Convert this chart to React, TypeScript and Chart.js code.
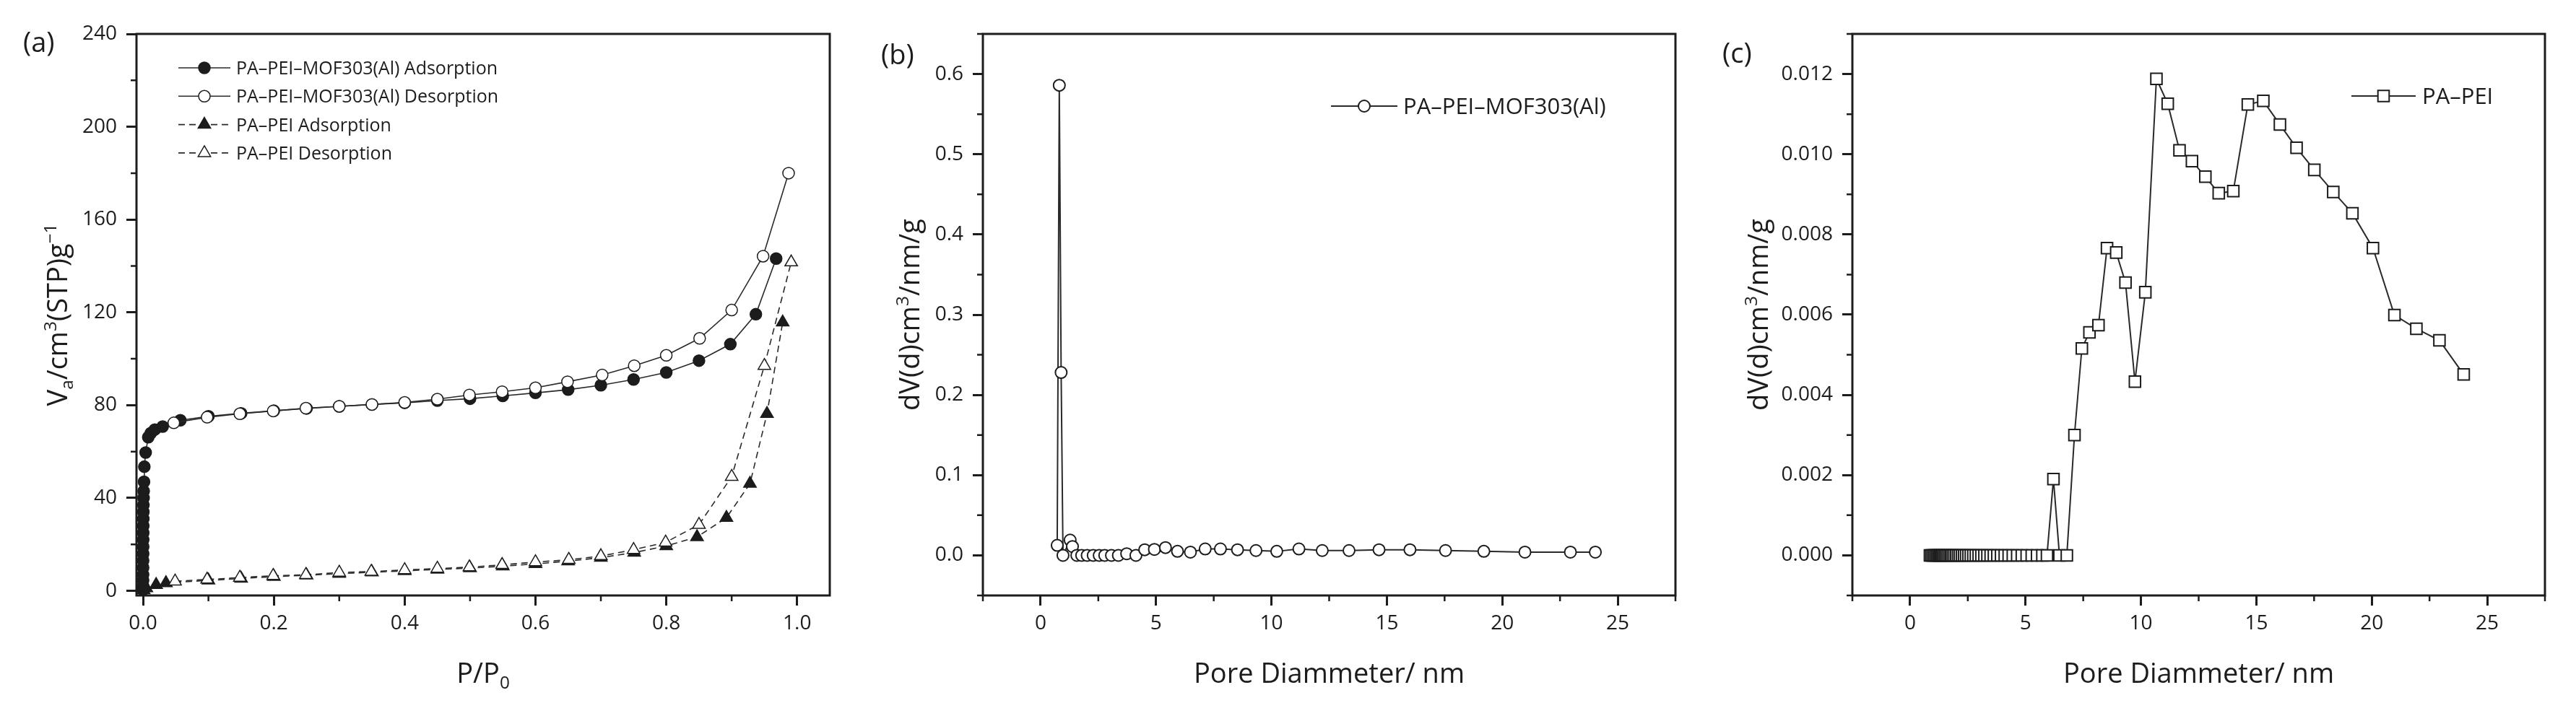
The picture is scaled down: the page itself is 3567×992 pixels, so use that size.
import React, { useEffect, useRef } from 'react';
import { Chart, registerables } from 'chart.js';

Chart.register(...registerables);

const FONT = "'Open Sans', 'DejaVu Sans', sans-serif";
const INK = '#1c1c1c';
const LINE = '#2a2a2a';

// ---------- Panel (a): isotherms ----------
const mofAdsP = [0.00002, 0.00004, 0.00006, 0.00008, 0.0001, 0.00013, 0.00016, 0.0002, 0.00025, 0.0003, 0.00035, 0.0004, 0.0005, 0.0006, 0.0008, 0.001, 0.0015, 0.002, 0.004, 0.008, 0.012, 0.018, 0.03, 0.057, 0.10, 0.15, 0.20, 0.25, 0.30, 0.35, 0.40, 0.45, 0.50, 0.55, 0.60, 0.65, 0.70, 0.75, 0.80, 0.85, 0.898, 0.937, 0.968];
const mofAdsV = [0.5, 2, 4.5, 7, 10, 13, 16, 19, 22, 25, 28, 31, 34, 37, 40, 43, 47, 53.5, 59.6, 66.2, 68, 69.5, 70.8, 73.5, 75.2, 76.5, 77.6, 78.6, 79.5, 80.3, 81.0, 82.0, 82.8, 84.0, 85.3, 86.7, 88.6, 91.1, 94.1, 99.2, 106.3, 119.2, 143.2];
const mofDesP = [0.047, 0.098, 0.148, 0.199, 0.249, 0.30, 0.35, 0.40, 0.45, 0.499, 0.549, 0.60, 0.649, 0.702, 0.751, 0.80, 0.851, 0.90, 0.948, 0.987];
const mofDesV = [72.4, 74.8, 76.3, 77.5, 78.7, 79.5, 80.3, 81.2, 82.6, 84.4, 85.8, 87.5, 90.1, 93.0, 97.0, 101.5, 108.8, 121.0, 144.2, 180.0];
const peiAdsP = [0.001, 0.005, 0.02, 0.035, 0.10, 0.15, 0.20, 0.25, 0.30, 0.35, 0.40, 0.45, 0.50, 0.55, 0.60, 0.65, 0.70, 0.751, 0.80, 0.847, 0.892, 0.928, 0.954, 0.978];
const peiAdsV = [0.3, 1.2, 2.6, 3.4, 4.5, 5.3, 6.1, 6.7, 7.4, 8.0, 8.6, 9.2, 9.8, 10.6, 11.6, 12.8, 14.3, 16.5, 19.3, 23.2, 31.5, 46.2, 76.3, 115.7];
const peiDesP = [0.049, 0.098, 0.148, 0.199, 0.249, 0.30, 0.349, 0.40, 0.45, 0.499, 0.549, 0.60, 0.651, 0.70, 0.75, 0.799, 0.85, 0.90, 0.95, 0.991];
const peiDesV = [4.1, 4.9, 5.7, 6.5, 6.9, 7.9, 8.3, 9.0, 9.6, 10.2, 11.2, 12.4, 13.4, 15.0, 17.7, 20.9, 28.5, 49.2, 97.0, 141.6];
const aXTicks = [0, 0.2, 0.4, 0.6, 0.8, 1.0];
const aXMinor = [0.1, 0.3, 0.5, 0.7, 0.9];
const aYTicks = [0, 40, 80, 120, 160, 200, 240];
const aYMinor = [20, 60, 100, 140, 180, 220];
const aLegend = ['PA–PEI–MOF303(Al) Adsorption', 'PA–PEI–MOF303(Al) Desorption', 'PA–PEI Adsorption', 'PA–PEI Desorption'];

// ---------- Panel (b): PA-PEI-MOF303(Al) pore size ----------
const bDiam = [0.72, 0.81, 0.89, 0.97, 1.28, 1.38, 1.57, 1.78, 2.02, 2.28, 2.54, 2.78, 3.07, 3.37, 3.73, 4.13, 4.51, 4.93, 5.41, 5.93, 6.49, 7.13, 7.79, 8.53, 9.33, 10.23, 11.19, 12.2, 13.36, 14.66, 16.0, 17.54, 19.2, 20.98, 22.95, 24.03];
const bDv = [0.0125, 0.586, 0.228, 0.0, 0.019, 0.011, 0, 0, 0, 0, 0, 0, 0, 0, 0.002, 0, 0.007, 0.0074, 0.0097, 0.005, 0.004, 0.008, 0.008, 0.007, 0.006, 0.005, 0.008, 0.006, 0.006, 0.007, 0.007, 0.006, 0.005, 0.004, 0.004, 0.004];
const bXTicks = [0, 5, 10, 15, 20, 25];
const bXMinor = [-2.5, 2.5, 7.5, 12.5, 17.5, 22.5, 27.5];
const bYTicks = [0, 0.1, 0.2, 0.3, 0.4, 0.5, 0.6];
const bYMinor = [-0.05, 0.05, 0.15, 0.25, 0.35, 0.45, 0.55, 0.65];
const bLegend = ['PA–PEI–MOF303(Al)'];

// ---------- Panel (c): PA-PEI pore size ----------
const cDiam = [0.86, 0.92, 0.98, 1.04, 1.10, 1.16, 1.22, 1.28, 1.34, 1.40, 1.46, 1.52, 1.58, 1.64, 1.71, 1.78, 1.85, 1.92, 2.00, 2.08, 2.16, 2.25, 2.34, 2.43, 2.53, 2.63, 2.74, 2.85, 2.97, 3.09, 3.22, 3.35, 3.49, 3.63, 3.78, 3.94, 4.10, 4.27, 4.45, 4.64, 4.84, 5.05, 5.27, 5.50, 5.73, 5.93, 6.21, 6.47, 6.79, 7.12, 7.44, 7.77, 8.16, 8.53, 8.93, 9.33, 9.74, 10.19, 10.67, 11.16, 11.67, 12.21, 12.79, 13.37, 14.00, 14.63, 15.30, 16.02, 16.74, 17.51, 18.33, 19.16, 20.05, 20.98, 21.93, 22.93, 23.98];
const cDv = [0, 0, 0, 0, 0, 0, 0, 0, 0, 0, 0, 0, 0, 0, 0, 0, 0, 0, 0, 0, 0, 0, 0, 0, 0, 0, 0, 0, 0, 0, 0, 0, 0, 0, 0, 0, 0, 0, 0, 0, 0, 0, 0, 0, 0, 0, 0.0019, 0, 0, 0.0030, 0.00516, 0.00556, 0.00574, 0.00766, 0.00755, 0.0068, 0.00433, 0.00656, 0.01188, 0.01126, 0.0101, 0.00983, 0.00944, 0.00903, 0.00908, 0.01124, 0.01133, 0.01074, 0.01016, 0.00961, 0.00906, 0.00853, 0.00766, 0.00599, 0.00565, 0.00536, 0.00451];
const cXTicks = [0, 5, 10, 15, 20, 25];
const cXMinor = [-2.5, 2.5, 7.5, 12.5, 17.5, 22.5, 27.5];
const cYTicks = [0, 0.002, 0.004, 0.006, 0.008, 0.010, 0.012];
const cYMinor = [-0.001, 0.001, 0.003, 0.005, 0.007, 0.009, 0.011, 0.013];
const cLegend = ['PA–PEI'];

type Seg = { t: string; s?: 'sup' | 'sub' };
type Marker = { style: 'circle' | 'triangle' | 'rect'; r: number; fill: string; bw: number; dash: number[]; lw: number };

const zip = (xs: number[], ys: number[]) => xs.map((x, i) => ({ x, y: ys[i] }));

function drawRich(ctx: CanvasRenderingContext2D, segs: Seg[], cx: number, by: number, size: number) {
  const parts = segs.map((sg) => {
    const fs = sg.s ? size * 0.64 : size;
    ctx.font = `${fs}px ${FONT}`;
    return { ...sg, fs, w: ctx.measureText(sg.t).width };
  });
  const total = parts.reduce((a, p) => a + p.w, 0);
  let x = cx - total / 2;
  ctx.textAlign = 'left';
  ctx.textBaseline = 'alphabetic';
  for (const p of parts) {
    ctx.font = `${p.fs}px ${FONT}`;
    const dy = p.s === 'sup' ? -size * 0.4 : p.s === 'sub' ? size * 0.2 : 0;
    ctx.fillText(p.t, x, by + dy);
    x += p.w;
  }
}

function drawMarker(ctx: CanvasRenderingContext2D, m: Marker, x: number, y: number) {
  ctx.beginPath();
  if (m.style === 'circle') {
    ctx.arc(x, y, m.r, 0, Math.PI * 2);
  } else if (m.style === 'triangle') {
    ctx.moveTo(x, y - m.r);
    ctx.lineTo(x + m.r * 0.866, y + m.r * 0.5);
    ctx.lineTo(x - m.r * 0.866, y + m.r * 0.5);
    ctx.closePath();
  } else {
    const h = m.r * Math.SQRT1_2;
    ctx.rect(x - h, y - h, 2 * h, 2 * h);
  }
  ctx.setLineDash([]);
  ctx.fillStyle = m.fill;
  ctx.fill();
  ctx.lineWidth = m.bw;
  ctx.strokeStyle = INK;
  ctx.stroke();
}

interface PanelSpec {
  left: number;
  width: number;
  axisWidth: number;
  padRight: number;
  xMin: number; xMax: number; yMin: number; yMax: number;
  xTicks: number[]; xMinor: number[]; yTicks: number[]; yMinor: number[];
  xDec: number; yDec: number;
  datasets: any[];
  xTitle: Seg[]; yTitle: Seg[]; yTitleX: number;
  label: string; labelX: number; labelY: number;
  legendLabels: string[]; legendMarkers: Marker[];
  legX0: number; legX1: number; legTextX: number; legY0: number; legDy: number; legFont: number;
}

const openCircleA: Marker = { style: 'circle', r: 8, fill: '#ffffff', bw: 1.5, dash: [], lw: 1.6 };
const fillCircleA: Marker = { style: 'circle', r: 8, fill: INK, bw: 1.5, dash: [], lw: 1.6 };
const fillTriA: Marker = { style: 'triangle', r: 10, fill: INK, bw: 1.5, dash: [9, 6], lw: 1.6 };
const openTriA: Marker = { style: 'triangle', r: 10, fill: '#ffffff', bw: 1.5, dash: [9, 6], lw: 1.6 };
const circleB: Marker = { style: 'circle', r: 8, fill: '#ffffff', bw: 2, dash: [], lw: 2 };
const squareC: Marker = { style: 'rect', r: 11, fill: '#ffffff', bw: 2, dash: [], lw: 2 };

function ds(xs: number[], ys: number[], m: Marker) {
  return {
    data: zip(xs, ys),
    showLine: true,
    borderColor: LINE,
    borderWidth: m.lw,
    borderDash: m.dash,
    pointStyle: m.style,
    pointRadius: m.r,
    pointBackgroundColor: m.fill,
    pointBorderColor: INK,
    pointBorderWidth: m.bw,
    clip: false,
    tension: 0,
  };
}

const specs: PanelSpec[] = [
  {
    left: 0, width: 1200, axisWidth: 189, padRight: 51,
    xMin: -0.01, xMax: 1.05, yMin: -2, yMax: 240,
    xTicks: aXTicks, xMinor: aXMinor, yTicks: aYTicks, yMinor: aYMinor, xDec: 1, yDec: 0,
    datasets: [
      ds(mofDesP, mofDesV, openCircleA),
      ds(mofAdsP, mofAdsV, fillCircleA),
      ds(peiDesP, peiDesV, openTriA),
      ds(peiAdsP, peiAdsV, fillTriA),
    ],
    xTitle: [{ t: 'P/P' }, { t: '0', s: 'sub' }],
    yTitle: [{ t: 'V' }, { t: 'a', s: 'sub' }, { t: '/cm' }, { t: '3', s: 'sup' }, { t: '(STP)g' }, { t: '−1', s: 'sup' }],
    yTitleX: 93,
    label: '(a)', labelX: 32, labelY: 72,
    legendLabels: aLegend, legendMarkers: [fillCircleA, openCircleA, fillTriA, openTriA],
    legX0: 247, legX1: 319, legTextX: 327, legY0: 94, legDy: 39.3, legFont: 25,
  },
  {
    left: 1200, width: 1170, axisWidth: 161, padRight: 50,
    xMin: -2.5, xMax: 27.5, yMin: -0.05, yMax: 0.65,
    xTicks: bXTicks, xMinor: bXMinor, yTicks: bYTicks, yMinor: bYMinor, xDec: 0, yDec: 1,
    datasets: [ds(bDiam, bDv, circleB)],
    xTitle: [{ t: 'Pore Diammeter/ nm' }],
    yTitle: [{ t: 'dV(d)cm' }, { t: '3', s: 'sup' }, { t: '/nm/g' }],
    yTitleX: 1273,
    label: '(b)', labelX: 1220, labelY: 89,
    legendLabels: bLegend, legendMarkers: [circleB],
    legX0: 1843, legX1: 1935, legTextX: 1943, legY0: 147, legDy: 0, legFont: 31,
  },
  {
    left: 2370, width: 1197, axisWidth: 195, padRight: 43,
    xMin: -2.5, xMax: 27.5, yMin: -0.001, yMax: 0.013,
    xTicks: cXTicks, xMinor: cXMinor, yTicks: cYTicks, yMinor: cYMinor, xDec: 0, yDec: 3,
    datasets: [ds(cDiam, cDv, squareC)],
    xTitle: [{ t: 'Pore Diammeter/ nm' }],
    yTitle: [{ t: 'dV(d)cm' }, { t: '3', s: 'sup' }, { t: '/nm/g' }],
    yTitleX: 2448,
    label: '(c)', labelX: 2385, labelY: 87,
    legendLabels: cLegend, legendMarkers: [squareC],
    legX0: 3256, legX1: 3345, legTextX: 3354, legY0: 133, legDy: 0, legFont: 31,
  },
];

function makeDecor(sp: PanelSpec) {
  return {
    id: 'decor',
    afterDraw(chart: any) {
      const ctx: CanvasRenderingContext2D = chart.ctx;
      const ca = chart.chartArea;
      const xs = chart.scales.x;
      const ys = chart.scales.y;
      const L = sp.left;
      ctx.save();
      // frame
      ctx.setLineDash([]);
      ctx.strokeStyle = INK;
      ctx.lineWidth = 3;
      ctx.strokeRect(ca.left, ca.top, ca.right - ca.left, ca.bottom - ca.top);
      // minor ticks
      ctx.lineWidth = 2.5;
      ctx.beginPath();
      sp.xMinor.forEach((v) => {
        const px = xs.getPixelForValue(v);
        ctx.moveTo(px, ca.bottom);
        ctx.lineTo(px, ca.bottom + 8);
      });
      sp.yMinor.forEach((v) => {
        const py = ys.getPixelForValue(v);
        ctx.moveTo(ca.left - 8, py);
        ctx.lineTo(ca.left, py);
      });
      ctx.stroke();
      // titles
      ctx.fillStyle = INK;
      drawRich(ctx, sp.xTitle, (ca.left + ca.right) / 2, 946, 38);
      ctx.save();
      ctx.translate(sp.yTitleX - L, (ca.top + ca.bottom) / 2);
      ctx.rotate(-Math.PI / 2);
      drawRich(ctx, sp.yTitle, 0, 0, 38);
      ctx.restore();
      // panel label
      ctx.font = `38px ${FONT}`;
      ctx.textAlign = 'left';
      ctx.textBaseline = 'alphabetic';
      ctx.fillText(sp.label, sp.labelX - L, sp.labelY);
      // legend
      sp.legendLabels.forEach((lab, i) => {
        const m = sp.legendMarkers[i];
        const y = sp.legY0 + i * sp.legDy;
        ctx.beginPath();
        ctx.setLineDash(m.dash);
        ctx.strokeStyle = LINE;
        ctx.lineWidth = m.lw;
        ctx.moveTo(sp.legX0 - L, y);
        ctx.lineTo(sp.legX1 - L, y);
        ctx.stroke();
        drawMarker(ctx, m, (sp.legX0 + sp.legX1) / 2 - L, y);
        ctx.setLineDash([]);
        ctx.fillStyle = INK;
        ctx.font = `${sp.legFont}px ${FONT}`;
        ctx.textAlign = 'left';
        ctx.textBaseline = 'alphabetic';
        ctx.fillText(lab, sp.legTextX - L, y + sp.legFont * 0.357);
      });
      ctx.restore();
    },
  };
}

function buildChart(canvas: HTMLCanvasElement, sp: PanelSpec) {
  const tickFont = { family: FONT, size: 28 };
  return new Chart(canvas, {
    type: 'scatter',
    data: { datasets: sp.datasets },
    options: {
      responsive: false,
      animation: false,
      devicePixelRatio: 1,
      events: [],
      layout: { padding: { top: 47, right: sp.padRight, bottom: 0, left: 0 }, autoPadding: false },
      plugins: { legend: { display: false }, tooltip: { enabled: false }, title: { display: false } },
      scales: {
        x: {
          type: 'linear',
          min: sp.xMin,
          max: sp.xMax,
          afterBuildTicks: (s: any) => { s.ticks = sp.xTicks.map((v) => ({ value: v })); },
          afterFit: (s: any) => { s.height = 167; },
          grid: { display: true, drawOnChartArea: false, drawTicks: true, tickLength: 14, tickWidth: 3, tickColor: INK },
          border: { display: false },
          ticks: {
            color: INK, font: tickFont, padding: 8, maxRotation: 0, minRotation: 0, autoSkip: false,
            callback: (v: any) => Number(v).toFixed(sp.xDec),
          },
        },
        y: {
          type: 'linear',
          min: sp.yMin,
          max: sp.yMax,
          afterBuildTicks: (s: any) => { s.ticks = sp.yTicks.map((v) => ({ value: v })); },
          afterFit: (s: any) => { s.width = sp.axisWidth; },
          grid: { display: true, drawOnChartArea: false, drawTicks: true, tickLength: 14, tickWidth: 3, tickColor: INK },
          border: { display: false },
          ticks: {
            color: INK, font: tickFont, padding: 13, autoSkip: false,
            callback: (v: any) => Number(v).toFixed(sp.yDec),
          },
        },
      },
    } as any,
    plugins: [makeDecor(sp)],
  });
}

export default function App() {
  const r0 = useRef<HTMLCanvasElement>(null);
  const r1 = useRef<HTMLCanvasElement>(null);
  const r2 = useRef<HTMLCanvasElement>(null);
  const refs = [r0, r1, r2];

  useEffect(() => {
    const charts = specs.map((sp, i) => buildChart(refs[i].current as HTMLCanvasElement, sp));
    return () => charts.forEach((c) => c.destroy());
  }, []);

  return (
    <div style={{ position: 'absolute', left: 0, top: 0, width: 3567, height: 992, background: '#ffffff', overflow: 'hidden' }}>
      {specs.map((sp, i) => (
        <canvas
          key={i}
          ref={refs[i]}
          width={sp.width}
          height={992}
          style={{ position: 'absolute', left: sp.left, top: 0, width: sp.width, height: 992 }}
        />
      ))}
    </div>
  );
}
